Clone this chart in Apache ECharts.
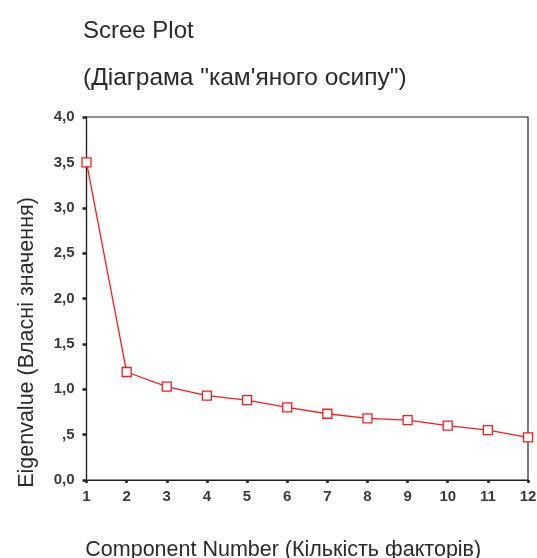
<!DOCTYPE html>
<html><head><meta charset="utf-8">
<script src="https://cdn.jsdelivr.net/npm/echarts@6/dist/echarts.min.js"></script>
<style>html,body{margin:0;padding:0;background:#fff}#c{width:537px;height:558px}</style>
</head><body><div id="c"></div>
<script>
const components = [1,2,3,4,5,6,7,8,9,10,11,12];
const eigenvalues = [3.50,1.19,1.03,0.93,0.88,0.80,0.73,0.68,0.66,0.60,0.55,0.47];
const yTicks = ['0,0',',5','1,0','1,5','2,0','2,5','3,0','3,5','4,0'];
const titleText = 'Scree Plot';
const subtitleText = '(Діаграма "кам\'яного осипу")';
const xName = 'Component Number (Кількість факторів)';
const yName = 'Eigenvalue (Власні значення)';

const font = 'Liberation Sans';
const chart = echarts.init(document.getElementById('c'), null, {renderer:'canvas'});
chart.setOption({
  animation:false,
  backgroundColor:'#fff',
  title:[
    {text:titleText,left:83,top:19,padding:0,textStyle:{fontFamily:font,fontSize:24,fontWeight:'normal',color:'#2a2a2a'}},
    {text:subtitleText,left:83,top:66,padding:0,textStyle:{fontFamily:font,fontSize:24.5,fontWeight:'normal',color:'#2a2a2a'}}
  ],
  grid:{left:86.5,right:9,top:117,bottom:78,show:true,borderColor:'#222',borderWidth:1.2,containLabel:false,outerBoundsMode:'none'},
  xAxis:{type:'value',min:1,max:12,interval:1,name:xName,nameLocation:'middle',nameGap:59,
    nameTextStyle:{fontFamily:font,fontSize:21.5,color:'#2a2a2a',padding:[0,48,0,0]},
    axisLine:{lineStyle:{color:'#222',width:1.2}},
    axisTick:{show:true,length:3,lineStyle:{color:'#222',width:2.5}},
    axisLabel:{fontFamily:font,fontSize:15,fontWeight:'bold',color:'#3a3a3a',margin:9},
    splitLine:{show:false}},
  yAxis:{type:'value',min:0,max:4,interval:0.5,name:yName,nameLocation:'middle',nameGap:48,
    nameTextStyle:{fontFamily:font,fontSize:21.5,color:'#2a2a2a',padding:[0,88,0,0]},
    axisLine:{show:true,lineStyle:{color:'#222',width:1.2}},
    axisTick:{show:true,length:4,lineStyle:{color:'#222',width:2.5}},
    axisLabel:{fontFamily:font,fontSize:15,fontWeight:'bold',color:'#3a3a3a',margin:12,
      formatter:function(v){return yTicks[Math.round(v*2)];}},
    splitLine:{show:false}},
  series:[{type:'line',data:components.map((c,i)=>[c,eigenvalues[i]]),
    symbol:'rect',symbolSize:9,
    lineStyle:{color:'#ff1a1a',width:1.3},
    itemStyle:{color:'#fff',borderColor:'#ff1a1a',borderWidth:1.3}}]
});
</script></body></html>
